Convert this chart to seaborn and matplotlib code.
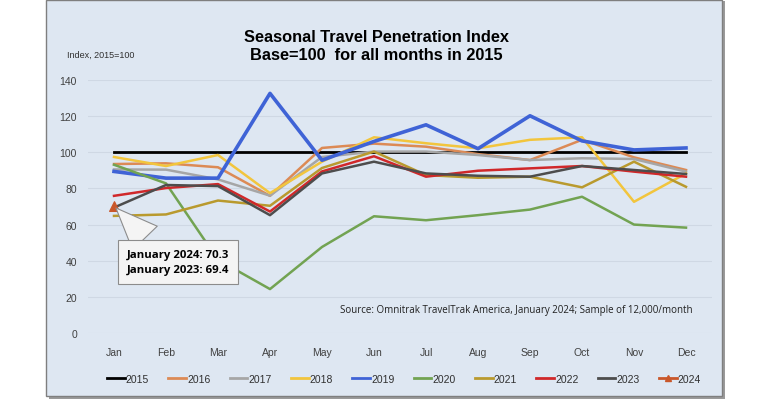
import pandas as pd
import matplotlib.pyplot as plt
import seaborn as sns
from matplotlib.patches import Rectangle
from matplotlib.lines import Line2D

months = ["Jan", "Feb", "Mar", "Apr", "May", "Jun", "Jul", "Aug", "Sep", "Oct", "Nov", "Dec"]

y2015 = [100, 100, 100, 100, 100, 100, 100, 100, 100, 100, 100, 100]
y2016 = [93.5, 93.9, 91.7, 75.9, 102.4, 104.8, 103.1, 99.0, 95.7, 106.9, 97.2, 90.2]
y2017 = [90.5, 90.4, 85.0, 76.0, 97.4, 100.4, 100.4, 98.5, 95.7, 96.7, 96.3, 89.3]
y2018 = [97.4, 92.4, 98.5, 77.4, 94.8, 108.3, 105.0, 102.2, 106.9, 108.3, 72.6, 88.3]
y2019 = [89.4, 85.7, 85.7, 132.6, 95.6, 106.0, 115.2, 102.0, 120.2, 106.3, 101.3, 102.4]
y2020 = [93.1, 82.8, 40.5, 24.3, 47.6, 64.6, 62.4, 65.2, 68.3, 75.4, 60.0, 58.3]
y2021 = [64.8, 65.6, 73.3, 70.4, 91.3, 100.4, 87.4, 85.9, 86.5, 80.6, 94.8, 80.9]
y2022 = [75.9, 80.2, 82.4, 67.2, 89.4, 97.8, 86.5, 89.8, 91.1, 92.4, 89.3, 86.5]
y2023 = [69.4, 81.9, 81.3, 65.2, 88.3, 94.8, 88.3, 87.0, 86.5, 92.4, 90.2, 88.0]
y2024 = [70.3]

series = {
    "2015": y2015, "2016": y2016, "2017": y2017, "2018": y2018, "2019": y2019,
    "2020": y2020, "2021": y2021, "2022": y2022, "2023": y2023, "2024": y2024,
}
colors = {
    "2015": "#000000", "2016": "#DC8A55", "2017": "#A6A6A6", "2018": "#F2C53D",
    "2019": "#3F63D6", "2020": "#72A352", "2021": "#B99A2E", "2022": "#D0282A",
    "2023": "#4D4D4D", "2024": "#C9572A",
}
widths = {"2015": 2.0, "2019": 2.6}

bg = "#DEE7F2"
fig = plt.figure(figsize=(7.68, 4.02), dpi=100)
fig.patch.set_facecolor("white")
# panel frame with a little shadow
fig.patches.append(Rectangle((49 / 768, 1 - 400 / 402), 676 / 768, 398 / 402,
                             transform=fig.transFigure, facecolor="#9A9A9A",
                             edgecolor="none", zorder=-2))
fig.patches.append(Rectangle((46 / 768, 1 - 397 / 402), 676 / 768, 396 / 402,
                             transform=fig.transFigure, facecolor=bg,
                             edgecolor="#7F7F7F", linewidth=1.0, zorder=-1))

ax = fig.add_axes([88 / 768, 1 - 334 / 402, 624 / 768, 253 / 402])
ax.set_facecolor(bg)

for year, vals in series.items():
    df = pd.DataFrame({"month": months[:len(vals)], "value": vals})
    sns.lineplot(data=df, x="month", y="value", ax=ax, color=colors[year],
                 linewidth=widths.get(year, 1.8), sort=False,
                 marker="^" if year == "2024" else None, markersize=7,
                 markeredgecolor=colors[year], zorder=3)

ax.set_xlim(-0.5, 11.5)
ax.set_ylim(0, 140)
ax.set_yticks(range(0, 141, 20))
ax.grid(axis="y", color="#CFD8E4", linewidth=0.8)
ax.grid(axis="x", visible=False)
ax.set_axisbelow(True)
for s in ax.spines.values():
    s.set_visible(False)
ax.tick_params(length=0, labelsize=7.5, labelcolor="#404040", pad=8)
ax.tick_params(axis="x", pad=10)
ax.set_xlabel("")
ax.set_ylabel("")
for lab in ax.get_xticklabels() + ax.get_yticklabels():
    lab.set_family("Liberation Sans")

fig.text(376 / 768, 1 - 37 / 402, "Seasonal Travel Penetration Index",
         ha="center", va="center", fontsize=11.8, fontweight="bold",
         family="Liberation Sans")
fig.text(376 / 768, 1 - 55 / 402, "Base=100  for all months in 2015",
         ha="center", va="center", fontsize=11.8, fontweight="bold",
         family="Liberation Sans")
fig.text(67 / 768, 1 - 55 / 402, "Index, 2015=100", ha="left", va="center",
         fontsize=6.5, color="#303030", family="Liberation Sans")
fig.text(693 / 768, 1 - 311 / 402,
         "Source: Omnitrak TravelTrak America, January 2024; Sample of 12,000/month",
         ha="right", va="center", fontsize=7, color="#202020", family="Open Sans")

ax.annotate("January 2024: 70.3\nJanuary 2023: 69.4", xy=(0, y2024[0]),
            xytext=(178 / 768, 1 - 263 / 402), textcoords="figure fraction",
            ha="center", va="center", fontsize=8.2, fontweight="bold",
            family="Open Sans", linespacing=1.5,
            bbox=dict(boxstyle="square,pad=0.75", fc="#F4F4F4", ec="#8C8C8C", lw=0.8),
            arrowprops=dict(arrowstyle="wedge,tail_width=3.0,shrink_factor=0.5",
                            fc="#F4F4F4", ec="#8C8C8C", lw=0.8, relpos=(0.28, 1.0)),
            zorder=5)

handles = []
for year in series:
    handles.append(Line2D([], [], color=colors[year], linewidth=2,
                          marker="^" if year == "2024" else None, markersize=5))
leg = fig.legend(handles, list(series.keys()), loc="center",
                 bbox_to_anchor=(404 / 768, 1 - 380 / 402), ncol=10, frameon=False,
                 fontsize=7.5, handlelength=1.7, handletextpad=0.1, columnspacing=1.85)
for t in leg.get_texts():
    t.set_family("Liberation Sans")
    t.set_color("#303030")

fig.savefig("out.png", dpi=100)
